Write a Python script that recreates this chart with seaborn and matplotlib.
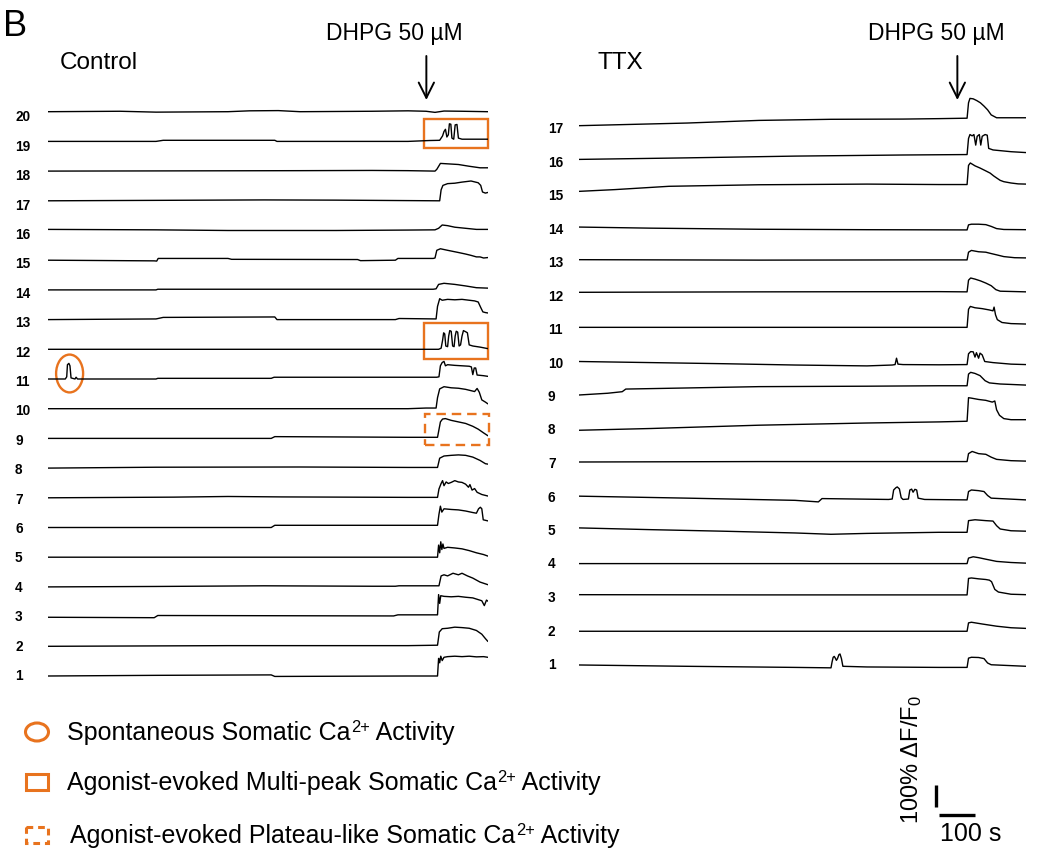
import matplotlib
matplotlib.use("Agg")
import matplotlib.pyplot as plt
import pandas as pd
import seaborn as sns
from matplotlib.patches import Rectangle, Ellipse, FancyArrowPatch

sns.set_theme(style="white")
plt.rcParams['font.family'] = ['Liberation Sans', 'DejaVu Sans']
plt.rcParams['text.color'] = 'black'
plt.rcParams['mathtext.fontset'] = 'custom'
plt.rcParams['mathtext.rm'] = 'Liberation Sans'
plt.rcParams['mathtext.it'] = 'Liberation Sans:italic'
plt.rcParams['mathtext.bf'] = 'Liberation Sans:bold'

# ---------------- data: (time s, dF/F %) keypoints per cell ----------------
c1 = [(0,0),(300,3),(620,5),(630,-2),(1000,0),(1082,0),(1085,80),(1088,60),(1091,90),(1095,70),(1100,85),(1110,88),(1130,90),(1150,88),(1170,90),(1190,87),(1210,88),(1222,85)]
c2 = [(0,0),(500,3),(1000,3),(1082,5),(1087,65),(1095,80),(1110,82),(1130,87),(1150,85),(1170,82),(1190,72),(1205,55),(1215,35),(1222,22)]
c3 = [(0,-3),(295,-5),(305,5),(960,3),(972,8),(1082,8),(1085,100),(1088,60),(1091,95),(1100,92),(1120,90),(1140,92),(1160,88),(1180,85),(1205,72),(1212,50),(1218,75),(1222,70)]
c4 = [(0,0),(300,2),(600,5),(900,3),(965,3),(975,5),(1086,5),(1092,50),(1100,55),(1110,50),(1125,62),(1140,55),(1150,62),(1165,50),(1180,40),(1200,22),(1222,10)]
c5 = [(0,0),(1082,0),(1085,55),(1088,20),(1091,70),(1094,35),(1097,60),(1100,40),(1110,45),(1130,42),(1150,38),(1170,30),(1190,20),(1210,12),(1222,5)]
c6 = [(0,0),(620,0),(630,10),(1082,10),(1086,60),(1090,97),(1094,70),(1100,85),(1120,82),(1140,80),(1160,75),(1180,68),(1190,65),(1196,85),(1201,92),(1205,85),(1209,35),(1222,30)]
c7 = [(0,0),(350,3),(500,6),(650,4),(1000,2),(1082,2),(1086,40),(1092,65),(1096,78),(1100,55),(1106,72),(1112,65),(1120,70),(1130,78),(1140,72),(1150,70),(1160,62),(1168,48),(1172,60),(1178,35),(1185,42),(1192,25),(1205,15),(1222,8)]
c8 = [(0,0),(300,4),(700,5),(1000,3),(1082,3),(1088,45),(1100,55),(1120,58),(1140,60),(1160,58),(1180,50),(1200,35),(1215,20),(1222,18)]
c9 = [(0,0),(620,0),(630,8),(1000,5),(1082,5),(1086,40),(1090,75),(1096,88),(1104,90),(1120,82),(1140,75),(1160,68),(1180,55),(1195,42),(1210,25),(1222,12)]
c10 = [(0,0),(1000,0),(1050,3),(1078,3),(1082,50),(1088,90),(1100,100),(1120,95),(1140,93),(1160,88),(1185,78),(1192,92),(1198,75),(1205,40),(1215,30),(1222,22)]
c11 = [(0,0),(48,0),(52,10),(54,65),(58,71),(61,60),(64,5),(75,0),(78,8),(82,0),(300,0),(305,3),(620,3),(628,8),(1080,8),(1086,10),(1090,60),(1095,75),(1100,80),(1104,60),(1110,65),(1130,62),(1150,60),(1170,58),(1176,55),(1180,20),(1184,50),(1188,50),(1192,18),(1210,15),(1222,12)]
c12 = [(0,0),(1000,0),(1085,0),(1092,5),(1096,40),(1099,75),(1102,70),(1105,15),(1110,12),(1113,60),(1116,85),(1120,82),(1124,15),(1128,12),(1131,60),(1134,82),(1138,78),(1142,15),(1146,20),(1150,60),(1154,85),(1160,80),(1165,75),(1170,20),(1180,15),(1200,10),(1222,3)]
c13 = [(0,0),(300,3),(320,10),(630,12),(636,0),(965,0),(975,5),(1078,3),(1082,60),(1088,95),(1095,88),(1110,92),(1130,90),(1150,92),(1170,88),(1185,85),(1195,80),(1202,55),(1208,35),(1215,32),(1222,30)]
c14 = [(0,0),(300,0),(305,3),(1070,3),(1078,5),(1085,25),(1100,30),(1130,25),(1160,18),(1190,10),(1222,8)]
c15 = [(0,0),(295,-3),(302,-4),(306,8),(500,8),(510,4),(860,3),(868,-2),(965,0),(972,8),(1070,8),(1075,10),(1080,45),(1090,52),(1110,45),(1140,35),(1160,28),(1175,22),(1190,15),(1200,15),(1210,10),(1222,12)]
c16 = [(0,5),(300,3),(500,0),(800,0),(1000,2),(1075,3),(1085,10),(1095,25),(1110,22),(1130,15),(1160,10),(1190,5),(1222,5)]
c17 = [(0,0),(600,4),(800,3),(1088,0),(1092,50),(1097,70),(1110,78),(1130,80),(1150,85),(1175,90),(1195,82),(1202,70),(1207,40),(1215,35),(1222,38)]
c18 = [(0,0),(700,2),(900,3),(1000,2),(1075,0),(1080,8),(1090,35),(1110,33),(1140,30),(1170,22),(1200,15),(1222,15)]
c19 = [(0,0),(300,0),(320,5),(630,5),(636,0),(1000,0),(1060,4),(1088,5),(1096,25),(1100,45),(1104,55),(1108,20),(1112,30),(1115,80),(1119,78),(1122,15),(1127,10),(1131,75),(1136,77),(1140,15),(1150,10),(1222,10)]
c20 = [(0,0),(200,2),(300,-2),(500,0),(560,4),(640,5),(700,0),(900,2),(1000,4),(1050,2),(1075,-3),(1100,3),(1150,2),(1222,0)]

r1 = [(0,-9),(300,-15),(600,-20),(700,-22),(703,5),(706,26),(709,30),(712,22),(715,12),(718,20),(722,38),(725,41),(729,20),(733,-15),(800,-18),(1000,-20),(1078,-20),(1082,22),(1090,26),(1110,25),(1125,20),(1135,0),(1145,-8),(1242,-15)]
r2 = [(0,-8),(1078,-8),(1082,30),(1090,33),(1120,25),(1160,15),(1200,8),(1242,5)]
r3 = [(0,6),(500,5),(1078,5),(1082,80),(1090,82),(1110,78),(1130,75),(1140,72),(1146,65),(1155,30),(1165,18),(1200,8),(1242,6)]
r4 = [(0,-5),(1078,-5),(1082,20),(1095,26),(1110,22),(1130,15),(1160,5),(1200,0),(1242,-3)]
r5 = [(0,5),(200,-3),(400,-10),(600,-18),(700,-24),(800,-20),(1000,-15),(1078,-15),(1082,38),(1100,42),(1130,38),(1150,36),(1160,15),(1170,0),(1200,-8),(1242,-10)]
r6 = [(0,-3),(300,-12),(600,-22),(665,-29),(675,-14),(860,-18),(870,-16),(874,25),(880,35),(884,39),(890,30),(895,-10),(900,-18),(915,-16),(919,25),(924,29),(928,15),(933,28),(938,25),(942,-12),(960,-18),(1078,-20),(1082,18),(1090,25),(1110,22),(1125,18),(1135,0),(1145,-12),(1242,-20)]
r7 = [(0,0),(500,2),(1000,2),(1078,2),(1082,38),(1092,48),(1110,38),(1130,35),(1145,22),(1160,12),(1200,6),(1242,4)]
r8 = [(0,-8),(200,0),(500,15),(800,25),(1000,30),(1078,33),(1082,140),(1090,138),(1110,132),(1130,128),(1148,120),(1155,125),(1160,85),(1168,60),(1180,45),(1200,40),(1242,40)]
r9 = [(0,0),(80,8),(120,15),(130,27),(300,32),(500,38),(800,40),(1000,42),(1078,42),(1082,95),(1088,103),(1100,98),(1114,88),(1128,65),(1140,55),(1170,50),(1200,48),(1242,45)]
r10 = [(0,0),(200,-5),(400,-10),(600,-16),(800,-20),(870,-16),(878,-14),(882,15),(886,-12),(900,-14),(1000,-15),(1078,-14),(1082,35),(1088,45),(1095,44),(1100,20),(1104,40),(1110,15),(1114,38),(1120,30),(1127,0),(1150,-5),(1200,-12),(1242,-14)]
r11 = [(0,3),(500,3),(1000,3),(1078,3),(1082,85),(1087,98),(1100,92),(1120,88),(1140,82),(1150,78),(1153,95),(1157,60),(1162,38),(1175,25),(1200,20),(1242,18)]
r12 = [(0,10),(500,12),(1000,13),(1078,12),(1082,65),(1088,75),(1100,70),(1115,62),(1130,52),(1145,40),(1158,22),(1170,15),(1242,12)]
r13 = [(0,6),(500,4),(1000,5),(1078,5),(1082,40),(1090,48),(1110,42),(1130,40),(1142,35),(1160,28),(1180,20),(1210,15),(1242,14)]
r14 = [(0,2),(200,-3),(500,-8),(800,-10),(1078,-11),(1082,12),(1090,15),(1110,15),(1130,13),(1145,5),(1160,-5),(1180,-9),(1242,-10)]
r15 = [(0,12),(100,20),(250,35),(500,42),(800,45),(1000,43),(1078,43),(1082,130),(1087,141),(1100,128),(1114,118),(1130,105),(1142,95),(1152,82),(1160,73),(1170,62),(1180,56),(1200,50),(1220,46),(1242,45)]
r16 = [(0,5),(300,12),(600,20),(900,25),(1078,27),(1082,100),(1086,118),(1092,112),(1097,118),(1102,70),(1106,110),(1112,118),(1116,70),(1120,110),(1128,118),(1134,115),(1138,55),(1150,48),(1200,40),(1242,36)]
r17 = [(0,6),(150,12),(300,18),(500,30),(700,35),(900,36),(1000,38),(1078,40),(1082,110),(1086,130),(1095,128),(1105,120),(1115,110),(1125,95),(1135,78),(1145,55),(1160,42),(1200,42),(1242,42)]

ctrl_traces = [c1, c2, c3, c4, c5, c6, c7, c8, c9, c10, c11, c12, c13, c14, c15, c16, c17, c18, c19, c20]
ttx_traces = [r1, r2, r3, r4, r5, r6, r7, r8, r9, r10, r11, r12, r13, r14, r15, r16, r17]
ctrl_labels = [str(i) for i in range(1, 21)]
ttx_labels = [str(i) for i in range(1, 18)]
panel_titles = ["Control", "TTX"]
drug_label = "DHPG 50 \u00b5M"
drug_time = 1051          # s, arrow position
legend_heads = ["Spontaneous Somatic Ca",
                "Agonist-evoked Multi-peak Somatic Ca",
                "Agonist-evoked Plateau-like Somatic Ca"]
legend_sup = "2+"
legend_tail = " Activity"
scale_amp = 100           # % dF/F0
scale_time = 100          # s

# ---------------- layout ----------------
W, H = 1037, 853
PX_S = 0.36     # px per second
PX_P = 0.22     # px per % dF/F
ORANGE = "#E8731E"

fig = plt.figure(figsize=(W / 100, H / 100), dpi=100)
ov = fig.add_axes([0, 0, 1, 1])
ov.set_xlim(0, W); ov.set_ylim(H, 0); ov.axis("off")

def make_axes(x0_px, width_px, base_px):
    ax = fig.add_axes([x0_px / W, 0, width_px / W, 1])
    ax.set_xlim(0, width_px / PX_S)
    ax.set_ylim((base_px - H) / PX_P, base_px / PX_P)
    ax.axis("off")
    return ax

axL = make_axes(48, 440, 677)
axR = make_axes(579, 447, 664)
spL = 29.7 / PX_P
spR = 33.5 / PX_P

def long_df(traces, labels, spacing):
    recs = []
    for i, (lab, pts) in enumerate(zip(labels, traces)):
        for t, v in pts:
            recs.append({"cell": lab, "t": t, "y": v + i * spacing})
    return pd.DataFrame(recs)

dfL = long_df(ctrl_traces, ctrl_labels, spL)
dfR = long_df(ttx_traces, ttx_labels, spR)
for ax, df in [(axL, dfL), (axR, dfR)]:
    sns.lineplot(data=df, x="t", y="y", units="cell", estimator=None, sort=False,
                 color="black", linewidth=1.0, ax=ax, legend=False)
    ax.axis("off")

# row labels
for i, lab in enumerate(ctrl_labels):
    ov.text(15, 676 - i * 29.4, lab, fontsize=9.8, fontweight="bold", ha="left", va="center")
for i, lab in enumerate(ttx_labels):
    ov.text(548, 665 - i * 33.5, lab, fontsize=9.8, fontweight="bold", ha="left", va="center")

# titles
ov.text(3, 36, "B", fontsize=26, ha="left", va="baseline")
ov.text(60, 69, panel_titles[0], fontsize=17.5, ha="left", va="baseline")
ov.text(598, 69, panel_titles[1], fontsize=17.5, ha="left", va="baseline")
ov.text(394, 40, drug_label, fontsize=16.5, ha="center", va="baseline")
ov.text(936, 40, drug_label, fontsize=16.5, ha="center", va="baseline")

# arrows
for ax, base in [(axL, 677), (axR, 664)]:
    y0 = (base - 57) / PX_P
    y1 = (base - 101) / PX_P
    ax.add_patch(FancyArrowPatch((drug_time, y0), (drug_time, y1),
                                 arrowstyle="->,head_length=1.1,head_width=0.55",
                                 mutation_scale=10, lw=1.4, color="black",
                                 shrinkA=0, shrinkB=0, clip_on=False))

# annotation boxes (left panel)
off = lambda r: (r - 1) * spL
axL.add_patch(Rectangle((1044, off(19) - 30), 177.5, 130, fill=False, ec=ORANGE, lw=1.7, clip_on=False))
axL.add_patch(Rectangle((1044, off(12) - 42), 177.5, 160, fill=False, ec=ORANGE, lw=1.7, clip_on=False))
axL.add_patch(Rectangle((1047, off(9) - 32), 178, 144, fill=False, ec=ORANGE, lw=1.7,
                        ls=(0, (4, 2.5)), clip_on=False))
axL.add_patch(Ellipse((60, off(11) + 25), 75, 172, fill=False, ec=ORANGE, lw=1.7, clip_on=False))

# legend
ov.add_patch(Ellipse((37, 733), 23, 18, fill=False, ec=ORANGE, lw=2.2))
ov.add_patch(Rectangle((26, 775), 22, 16, fill=False, ec=ORANGE, lw=2.2))
ov.add_patch(Rectangle((26, 828), 22, 16, fill=False, ec=ORANGE, lw=2.2, ls=(0, (2.2, 1.6))))
renderer = fig.canvas.get_renderer()
FS = 18
for y, head, x in zip([733, 783, 836], legend_heads, [67, 67, 70]):
    yb0 = y + 7
    t1 = ov.text(x, yb0, head, fontsize=FS, ha="left", va="baseline")
    x2 = x + t1.get_window_extent(renderer).width + 0.5
    t2 = ov.text(x2, yb0 - 7.5, legend_sup, fontsize=FS * 0.66, ha="left", va="baseline")
    x3 = x2 + t2.get_window_extent(renderer).width
    ov.text(x3, yb0, legend_tail, fontsize=FS, ha="left", va="baseline")

# scale bar (in TTX axes data units)
xb = (936 - 579) / PX_S
yb = (664 - 808) / PX_P
axR.plot([xb, xb], [yb, yb + scale_amp], color="black", lw=2.4, solid_capstyle="butt", clip_on=False)
yh = (664 - 816) / PX_P
axR.plot([xb + 8, xb + 8 + scale_time], [yh, yh], color="black", lw=2.4, solid_capstyle="butt", clip_on=False)
ov.text(940, 841, f"{scale_time} s", fontsize=18, ha="left", va="baseline")
ov.text(912, 760, f"{scale_amp}% \u0394F/F$_\\mathrm{{0}}$", fontsize=17, rotation=90, ha="center", va="center")

fig.savefig("out.png", dpi=100)
